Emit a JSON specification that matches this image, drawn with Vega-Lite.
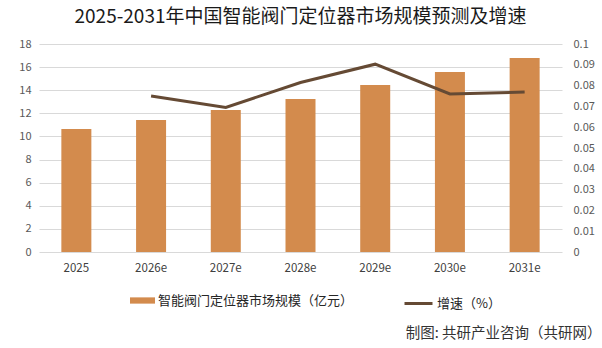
{
  "$schema": "https://vega.github.io/schema/vega-lite/v6.json",
  "autosize": "none",
  "width": 523,
  "height": 208,
  "padding": {"left": 39, "top": 44, "right": 40, "bottom": 96},
  "background": "white",
  "config": {
    "font": "Noto Sans CJK SC",
    "view": {"stroke": null},
    "axis": {"labelFont": "Noto Sans CJK SC", "titleFont": "Noto Sans CJK SC"},
    "legend": {"labelFont": "Noto Sans CJK SC"}
  },
  "title": {
    "text": "2025-2031年中国智能阀门定位器市场规模预测及增速",
    "font": "Noto Sans CJK SC",
    "fontSize": 19,
    "fontWeight": "normal",
    "color": "#1a1a1a",
    "anchor": "middle",
    "frame": "group",
    "offset": 11
  },
  "data": {
    "values": [
      {"year": "2025", "size": 10.64, "growth": null},
      {"year": "2026e", "size": 11.42, "growth": 0.075},
      {"year": "2027e", "size": 12.28, "growth": 0.0695},
      {"year": "2028e", "size": 13.24, "growth": 0.0815},
      {"year": "2029e", "size": 14.45, "growth": 0.0903},
      {"year": "2030e", "size": 15.57, "growth": 0.076},
      {"year": "2031e", "size": 16.78, "growth": 0.0769}
    ]
  },
  "encoding": {
    "x": {
      "field": "year",
      "type": "nominal",
      "sort": null,
      "scale": {"paddingInner": 0.6, "paddingOuter": 0.3},
      "axis": {
        "title": "制图: 共研产业咨询（共研网）",
        "titleX": 562,
        "titleY": 81,
        "titleAlign": "right",
        "titleAnchor": null,
        "titleBaseline": "middle",
        "titleFontSize": 14.5,
        "titleFontWeight": "normal",
        "titleColor": "#333333",
        "labelAngle": 0,
        "labelFontSize": 11.5,
        "labelColor": "#404040",
        "labelPadding": 10,
        "ticks": false,
        "domain": false,
        "grid": false
      }
    }
  },
  "layer": [
    {
      "mark": {"type": "bar", "size": 30},
      "encoding": {
        "y": {
          "field": "size",
          "type": "quantitative",
          "scale": {"domain": [0, 18], "nice": false},
          "axis": {
            "title": null,
            "values": [0, 2, 4, 6, 8, 10, 12, 14, 16, 18],
            "labelFontSize": 11,
            "labelColor": "#595959",
            "labelPadding": 8,
            "ticks": false,
            "domain": false,
            "grid": true,
            "gridColor": "#d9d9d9",
            "gridWidth": 1
          }
        },
        "fill": {
          "datum": "智能阀门定位器市场规模（亿元）",
          "scale": {"range": ["#D38B4D"]},
          "legend": {
            "title": null,
            "orient": "none",
            "legendX": 91,
            "legendY": 244,
            "padding": 0,
            "symbolType": "M-1,-0.25H1V0.25H-1Z",
            "symbolSize": 625,
            "symbolStrokeWidth": 0,
            "labelFontSize": 13,
            "labelColor": "#262626",
            "labelOffset": 3,
            "labelLimit": 0
          }
        }
      }
    },
    {
      "mark": {"type": "line", "strokeWidth": 3},
      "encoding": {
        "y": {
          "field": "growth",
          "type": "quantitative",
          "scale": {"domain": [0, 0.1], "nice": false},
          "axis": {
            "title": null,
            "orient": "right",
            "values": [0, 0.01, 0.02, 0.03, 0.04, 0.05, 0.06, 0.07, 0.08, 0.09, 0.1],
            "format": "~g",
            "labelFontSize": 11,
            "labelColor": "#595959",
            "labelPadding": 11,
            "ticks": false,
            "domain": false,
            "grid": false
          }
        },
        "stroke": {
          "datum": "增速（%）",
          "scale": {"range": ["#654A34"]},
          "legend": {
            "title": null,
            "orient": "none",
            "legendX": 364,
            "legendY": 244,
            "padding": 0,
            "symbolType": "stroke",
            "symbolSize": 784,
            "symbolStrokeWidth": 3,
            "labelFontSize": 13,
            "labelColor": "#262626",
            "labelOffset": 3,
            "labelLimit": 0
          }
        }
      }
    }
  ],
  "resolve": {"scale": {"y": "independent"}}
}
